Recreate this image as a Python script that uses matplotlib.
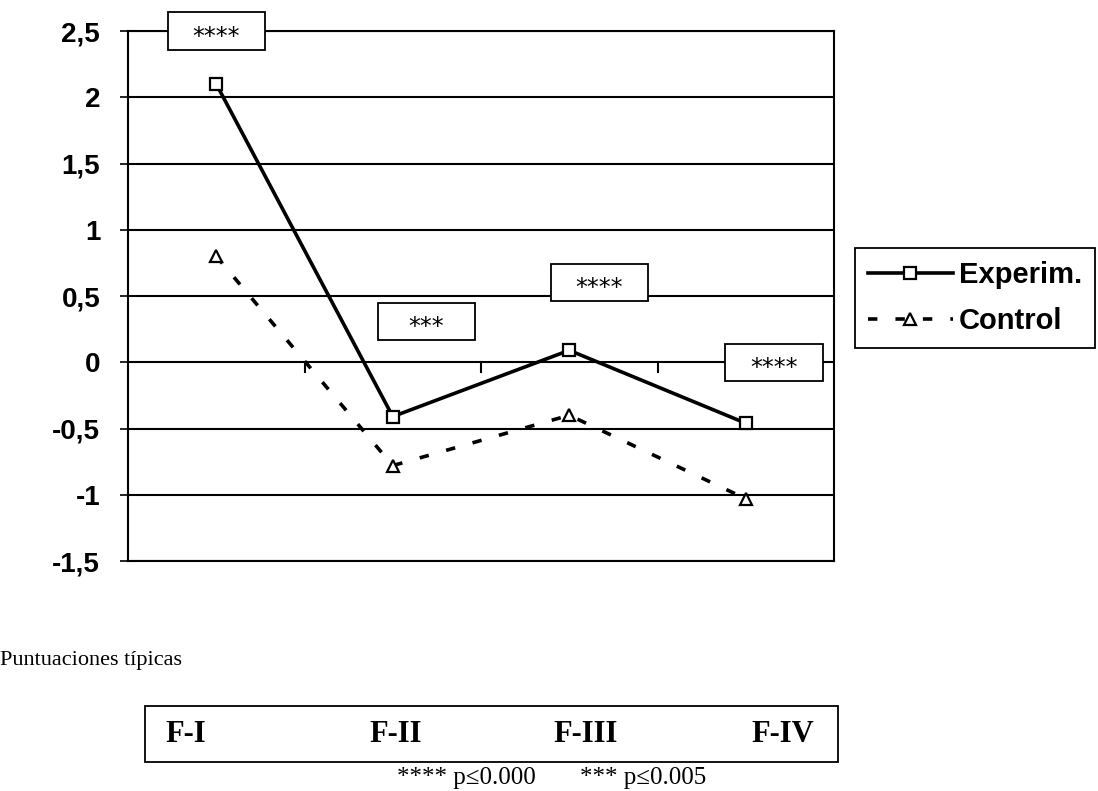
import matplotlib.pyplot as plt
from matplotlib.patches import Rectangle

factores = ['F-I', 'F-II', 'F-III', 'F-IV']
experim = [2.1, -0.41, 0.09, -0.46]
control = [0.8, -0.78, -0.4, -1.03]
yticks = [-1.5, -1, -0.5, 0, 0.5, 1, 1.5, 2, 2.5]
ytick_labels = ['-1,5', '-1', '-0,5', '0', '0,5', '1', '1,5', '2', '2,5']
sig_labels = ['****', '***', '****', '****']
sig_pos = [(0, 2.5), (1.19, 0.31), (2.17, 0.6), (3.16, 0.0)]
nota = ['**** p≤0.000', '*** p≤0.005']

plt.rcParams['font.family'] = ['Liberation Sans', 'DejaVu Sans']

fig = plt.figure(figsize=(10.98, 7.91), dpi=100)
ax = fig.add_axes([128/1098, 1 - 561/791, (834-128)/1098, (561-31)/791])

x = list(range(len(factores)))
ax.plot(x, experim, color='black', lw=2.6, marker='s', ms=9, mfc='white',
        mec='black', mew=1.6, label='Experim.', zorder=3)
ax.plot(x, control, color='black', lw=2.6, dashes=(2.6, 5), marker='^', ms=9,
        mfc='white', mec='black', mew=1.6, label='Control', zorder=3)

ax.set_xlim(-0.5, len(factores) - 0.5)
ax.set_ylim(-1.5, 2.5)
ax.set_yticks(yticks)
ax.set_yticklabels(ytick_labels, fontsize=20, fontweight='bold')
ax.tick_params(axis='y', length=6, width=1.2, pad=14)
ax.set_xticks([])
ax.yaxis.grid(True, color='black', lw=1.5)
ax.set_axisbelow(True)
for s in ax.spines.values():
    s.set_linewidth(1.5)

# separadores de categoria sobre la linea de cero
for b in [i + 0.5 for i in range(len(factores) - 1)]:
    ax.plot([b, b], [0, -0.07], color='black', lw=1.5, zorder=2)

for lab, (px, py) in zip(sig_labels, sig_pos):
    ax.add_patch(Rectangle((px - 0.275, py - 0.14), 0.55, 0.28, facecolor='white',
                           edgecolor='black', lw=1.3, zorder=4, clip_on=False))
    ax.annotate(lab, (px, py), xytext=(0, -4), textcoords='offset points',
                ha='center', va='center', fontsize=17, family='DejaVu Sans',
                zorder=5, annotation_clip=False)

leg = ax.legend(loc='upper left', bbox_to_anchor=(855/1098, 1 - 248/791),
                bbox_transform=fig.transFigure, borderaxespad=0, fancybox=False,
                edgecolor='black', framealpha=1, handlelength=2.9,
                prop={'size': 21, 'weight': 'bold'}, borderpad=0.45,
                labelspacing=0.62, handletextpad=0.2)
leg.get_frame().set_linewidth(1.3)

fig.text(0.0, 1 - 660/791, 'Puntuaciones típicas', fontsize=16,
         family='Liberation Serif', va='center', ha='left')

fig.patches.append(Rectangle((145/1098, 1 - 762/791), (838-145)/1098, 56/791,
                             transform=fig.transFigure, facecolor='none',
                             edgecolor='black', lw=1.3))
for lab, fx in zip(factores, [186, 396, 586, 783]):
    fig.text(fx/1098, 1 - 735/791, lab, fontsize=22, fontweight='bold',
             family='Liberation Serif', ha='center', va='center')
for lab, fx in zip(nota, [397, 580]):
    fig.text(fx/1098, 1 - 778/791, lab, fontsize=18, family='Liberation Serif',
             ha='left', va='center')

fig.savefig('out.png', dpi=100)
